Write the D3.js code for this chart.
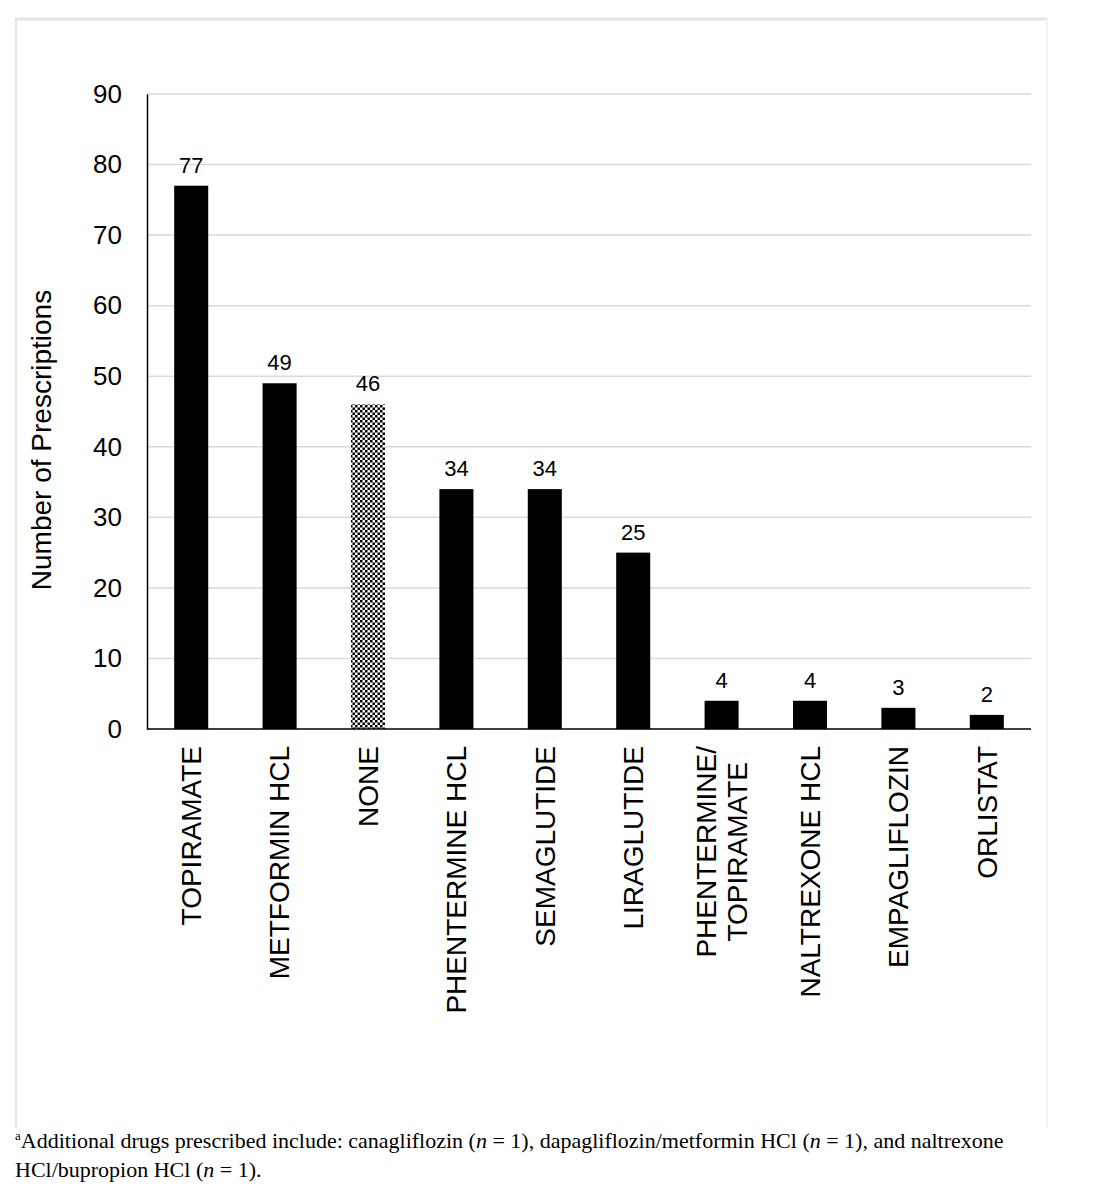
<!DOCTYPE html>
<html>
<head>
<meta charset="utf-8">
<script src="https://cdn.jsdelivr.net/npm/d3@7"></script>
<style>
  body { margin: 0; background: #fff; }
  svg { display: block; }
  .sans { font-family: Arial, "Liberation Sans", sans-serif; }
</style>
</head>
<body>
<svg id="chart" width="1098" height="1200"></svg>
<script>
// chart data
const categories = ["TOPIRAMATE", "METFORMIN HCL", "NONE", "PHENTERMINE HCL", "SEMAGLUTIDE",
  "LIRAGLUTIDE", "PHENTERMINE/\nTOPIRAMATE", "NALTREXONE HCL", "EMPAGLIFLOZIN", "ORLISTAT"];
const values = [77, 49, 46, 34, 34, 25, 4, 4, 3, 2];
const patterned = ["NONE"];
const yTicks = [0, 10, 20, 30, 40, 50, 60, 70, 80, 90];
const yTitle = "Number of Prescriptions";

const W = 1098, H = 1200;
const plot = {left: 147, right: 1031, top: 94, bottom: 729};

const svg = d3.select('#chart');
svg.append('rect').attr('width', W).attr('height', H).attr('fill', '#fff');

// faint frame around the figure
svg.append('line').attr('x1', 15).attr('x2', 1048).attr('y1', 19).attr('y2', 19)
  .attr('stroke', '#e4e4e4').attr('stroke-width', 3);
svg.append('line').attr('x1', 16).attr('x2', 16).attr('y1', 18).attr('y2', 1128)
  .attr('stroke', '#e4e4e4').attr('stroke-width', 2);
svg.append('line').attr('x1', 1047).attr('x2', 1047).attr('y1', 18).attr('y2', 1128)
  .attr('stroke', '#f2f2f2').attr('stroke-width', 2);

// checker pattern for NONE
const defs = svg.append('defs');
const pat = defs.append('pattern').attr('id', 'checker')
  .attr('patternUnits', 'userSpaceOnUse').attr('width', 5).attr('height', 5);
pat.append('rect').attr('width', 5).attr('height', 5).attr('fill', '#fff');
pat.append('rect').attr('width', 2.5).attr('height', 2.5).attr('fill', '#000');
pat.append('rect').attr('x', 2.5).attr('y', 2.5).attr('width', 2.5).attr('height', 2.5).attr('fill', '#000');

const x = d3.scaleBand().domain(categories).range([plot.left, plot.right]).paddingInner(0.615).paddingOuter(0.3075);
const y = d3.scaleLinear().domain([0, 90]).range([plot.bottom, plot.top]);

// gridlines
svg.append('g')
  .selectAll('line')
  .data(yTicks.filter(d => d > 0))
  .join('line')
  .attr('x1', plot.left).attr('x2', plot.right)
  .attr('y1', d => y(d)).attr('y2', d => y(d))
  .attr('stroke', '#d9d9d9').attr('stroke-width', 1.5);

// y axis
const yAxis = svg.append('g').attr('class', 'sans')
  .attr('transform', `translate(${plot.left},0)`)
  .call(d3.axisLeft(y).tickValues(yTicks).tickSize(0).tickPadding(25));
yAxis.select('.domain').attr('stroke', '#000').attr('stroke-width', 1.5);
yAxis.selectAll('text').attr('font-size', 26).attr('fill', '#000')
  .attr('font-family', 'Arial, "Liberation Sans", sans-serif');

// bars
svg.append('g')
  .selectAll('rect')
  .data(categories)
  .join('rect')
  .attr('x', d => x(d))
  .attr('width', x.bandwidth())
  .attr('y', (d, i) => y(values[i]))
  .attr('height', (d, i) => y(0) - y(values[i]))
  .attr('fill', d => patterned.includes(d) ? 'url(#checker)' : '#000');

// x axis line
svg.append('line').attr('x1', plot.left).attr('x2', plot.right)
  .attr('y1', plot.bottom).attr('y2', plot.bottom)
  .attr('stroke', '#000').attr('stroke-width', 1.5);

// value labels
svg.append('g').attr('class', 'sans')
  .selectAll('text')
  .data(categories)
  .join('text')
  .attr('x', d => x(d) + x.bandwidth() / 2)
  .attr('y', (d, i) => y(values[i]) - 13)
  .attr('text-anchor', 'middle')
  .attr('font-size', 22)
  .text((d, i) => values[i]);

// category labels (rotated, multi-line ones centred on each other)
const catG = svg.append('g').attr('class', 'sans');
categories.forEach(c => {
  const lines = c.split('\n');
  const cx = x(c) + x.bandwidth() / 2;
  const g = catG.append('g');
  const texts = lines.map(l => g.append('text').attr('font-size', 28).attr('text-anchor', 'middle').text(l));
  const maxW = d3.max(texts, t => t.node().getComputedTextLength());
  const cy = plot.bottom + 17 + maxW / 2;
  const lh = 31;
  texts.forEach((t, i) => {
    const off = (i - (lines.length - 1) / 2) * lh;
    t.attr('transform', `translate(${cx + off},${cy}) rotate(-90)`).attr('dy', '0.35em');
  });
});

// y title
svg.append('text').attr('class', 'sans')
  .attr('transform', `translate(41,440) rotate(-90)`)
  .attr('text-anchor', 'middle').attr('dy', '0.35em')
  .attr('font-size', 28)
  .text(yTitle);

// footnote
const foot = svg.append('text')
  .attr('font-family', '"Liberation Serif", "Times New Roman", serif')
  .attr('font-size', 22).attr('x', 15).attr('y', 1148);
foot.append('tspan').attr('font-size', 13).attr('dy', -8).text('a');
foot.append('tspan').attr('dy', 8).text('Additional drugs prescribed include: canagliflozin (');
foot.append('tspan').attr('font-style', 'italic').text('n');
foot.append('tspan').text(' = 1), dapagliflozin/metformin HCl (');
foot.append('tspan').attr('font-style', 'italic').text('n');
foot.append('tspan').text(' = 1), and naltrexone');
const foot2 = svg.append('text')
  .attr('font-family', '"Liberation Serif", "Times New Roman", serif')
  .attr('font-size', 22).attr('x', 15).attr('y', 1177);
foot2.append('tspan').text('HCl/bupropion HCl (');
foot2.append('tspan').attr('font-style', 'italic').text('n');
foot2.append('tspan').text(' = 1).');
</script>
</body>
</html>
